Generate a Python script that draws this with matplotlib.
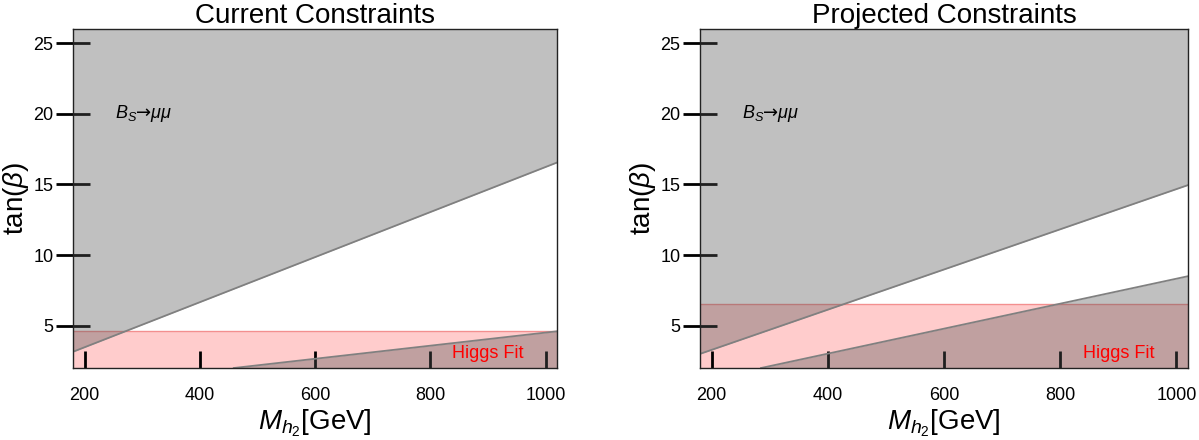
import matplotlib
matplotlib.use("Agg")
import matplotlib.pyplot as plt
import numpy as np

plt.rcParams['font.family'] = ['Liberation Sans', 'DejaVu Sans']
plt.rcParams['mathtext.fontset'] = 'custom'
plt.rcParams['mathtext.rm'] = 'Liberation Sans'
plt.rcParams['mathtext.it'] = 'Liberation Sans:italic'
plt.rcParams['mathtext.bf'] = 'Liberation Sans:bold'

# --- data ---
panel_titles = ["Current Constraints", "Projected Constraints"]

# B_s -> mu mu upper boundary (excluded above)
upper_x = [[180, 1020], [180, 1020]]
upper_y = [[3.15, 16.55], [3.0, 14.95]]

# lower excluded region (excluded below)
lower_x = [[459, 1020], [285, 1020]]
lower_y = [[2.0, 4.6], [2.0, 8.5]]

# Higgs fit band upper edge (excluded below)
higgs_top = [4.62, 6.52]

x_ticks = [200, 400, 600, 800, 1000]
y_ticks = [5, 10, 15, 20, 25]
x_lim = (180, 1020)
y_lim = (2, 26)

GRAY_FILL = (86 / 255, 86 / 255, 86 / 255)
GRAY_ALPHA = 0.373
PINK = '#ffcccc'
EDGE = '#808080'

fig = plt.figure(figsize=(11.99, 4.40), dpi=100)
boxes = [[0.0609, 0.1636, 0.4037, 0.7704],
         [0.5838, 0.1636, 0.4070, 0.7704]]

for i, box in enumerate(boxes):
    ax = fig.add_axes(box)

    # Higgs fit band
    ax.fill_between(x_lim, y_lim[0], higgs_top[i], color=PINK, lw=0, zorder=1)
    ax.plot(x_lim, [higgs_top[i]] * 2, color='#f08080', lw=1.0, alpha=0.8, zorder=1.5)

    # grey excluded regions
    ux = np.array(upper_x[i])
    uy = np.array(upper_y[i])
    ax.fill_between(ux, uy, y_lim[1], color=GRAY_FILL, alpha=GRAY_ALPHA, lw=0, zorder=2)
    ax.plot(ux, uy, color=EDGE, lw=1.3, zorder=3)

    lx = np.array(lower_x[i])
    ly = np.array(lower_y[i])
    ax.fill_between(lx, y_lim[0], ly, color=GRAY_FILL, alpha=GRAY_ALPHA, lw=0, zorder=2)
    ax.plot(lx, ly, color=EDGE, lw=1.3, zorder=3)

    ax.set_xlim(*x_lim)
    ax.set_ylim(*y_lim)
    ax.set_xticks(x_ticks)
    ax.set_yticks(y_ticks)
    ax.tick_params(axis='x', direction='in', length=12, width=2, labelsize=13, pad=14)
    ax.tick_params(axis='y', direction='inout', length=24, width=2, labelsize=13, pad=2)
    for sp in ax.spines.values():
        sp.set_linewidth(1.0)
        sp.set_color('#222222')
        sp.set_zorder(5)

    ax.set_title(panel_titles[i], fontsize=20, pad=4)
    ax.set_xlabel(r'$M_{h_2}$[GeV]', fontsize=20, labelpad=2)
    ax.set_ylabel(r'tan($\beta$)', fontsize=20, labelpad=2)

    ax.text(252, 20, r'$B_S$→$\mu\mu$', fontsize=13, family='DejaVu Sans',
            va='center', ha='left', zorder=6)
    ax.text(900, 3.0, 'Higgs Fit', fontsize=13, color='red', va='center', ha='center', zorder=6)

fig.savefig('out.png', dpi=100)
